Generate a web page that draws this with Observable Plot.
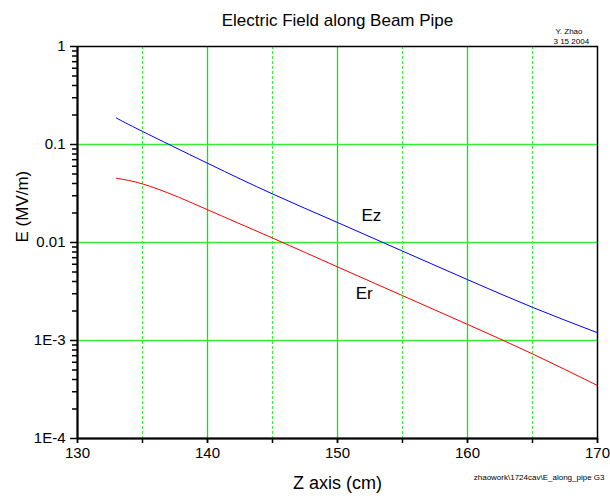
<!DOCTYPE html>
<html>
<head>
<meta charset="utf-8">
<script src="https://cdn.jsdelivr.net/npm/d3@7"></script>
<script src="https://cdn.jsdelivr.net/npm/@observablehq/plot@0.6"></script>
<style>
  html, body { margin: 0; padding: 0; background: #fff; }
  #chart svg { display: block; }
</style>
</head>
<body>
<div id="chart"></div>
<script>
// ---- data ----
const title = "Electric Field along Beam Pipe";
const xLabel = "Z axis (cm)";
const yLabel = "E (MV/m)";
const author = "Y. Zhao";
const dateText = "3 15 2004";
const fileText = "zhaowork\\1724cav\\E_along_pipe G3";

const xTicksLabeled = [130, 140, 150, 160, 170];
const xTicksAll = [130, 135, 140, 145, 150, 155, 160, 165, 170];
const xGridSolid = [140, 150, 160];
const xGridDashed = [135, 145, 155, 165];
const yTicks = [1, 0.1, 0.01, 0.001, 0.0001];
const yTickLabels = ["1", "0.1", "0.01", "1E-3", "1E-4"];
const yGrid = [0.1, 0.01, 0.001];

const ezZ = [133, 135, 140, 145, 150, 155, 160, 165, 170];
const ezE = [0.186, 0.136, 0.0644, 0.0313, 0.0160, 0.00817, 0.00418, 0.00218, 0.00120];
const erZ = [133, 135, 137.5, 140, 145, 150, 155, 160, 165, 170];
const erE = [0.0452, 0.0396, 0.0300, 0.0216, 0.0111, 0.00564, 0.00287, 0.00146, 0.00073, 0.000347];

const seriesLabels = [
  {z: 152.6, e: 0.0188, t: "Ez"},
  {z: 152.05, e: 0.00298, t: "Er"}
];

// ---- build ----
const ez = ezZ.map((z, i) => ({z, e: ezE[i]}));
const er = erZ.map((z, i) => ({z, e: erE[i]}));
const yMinor = [];
for (const d of [1e-4, 1e-3, 1e-2, 1e-1]) for (let k = 2; k <= 9; k++) yMinor.push(+(d * k).toPrecision(3));
const yFmt = v => yTickLabels[yTicks.findIndex(t => Math.abs(t - v) / t < 1e-6)] ?? "";

const font = "Liberation Sans, Arial, sans-serif";

const chart = Plot.plot({
  width: 610,
  height: 498,
  marginLeft: 77,
  marginRight: 13,
  marginTop: 46,
  marginBottom: 60,
  style: {fontFamily: font, background: "#fff", color: "#000"},
  x: {domain: [130, 170]},
  y: {type: "log", domain: [1e-4, 1]},
  marks: [
    Plot.ruleX(xGridSolid, {stroke: "#00ee00", strokeWidth: 1.3}),
    Plot.ruleX(xGridDashed, {stroke: "#44ee44", strokeWidth: 1, strokeDasharray: "3,2"}),
    Plot.ruleY(yGrid, {stroke: "#33ee33", strokeWidth: 1.5}),
    Plot.line(ez, {x: "z", y: "e", stroke: "#0000ff", strokeWidth: 1, curve: "natural"}),
    Plot.line(er, {x: "z", y: "e", stroke: "#ff0000", strokeWidth: 1, curve: "natural"}),
    Plot.text(seriesLabels, {x: "z", y: "e", text: "t", fontSize: 17, fill: "#000"}),
    Plot.frame({stroke: "#000", strokeWidth: 1.5}),
    Plot.ruleX([130], {stroke: "#000", strokeWidth: 2}),
    Plot.ruleY([1e-4], {stroke: "#000", strokeWidth: 2}),
    // x axis
    Plot.axisX({ticks: xTicksAll, tickSize: 5, tickFormat: () => "", strokeWidth: 1.5, label: null}),
    Plot.axisX({ticks: xTicksLabeled, tickSize: 5, tickPadding: 4, fontSize: 15, strokeWidth: 1.5, label: null, tickFormat: d => String(d)}),
    // y axis
    Plot.axisY({ticks: yMinor, tickSize: 5, tickFormat: () => "", strokeWidth: 1.5, label: null}),
    Plot.axisY({ticks: yTicks, tickSize: 7, tickPadding: 5, fontSize: 15, strokeWidth: 1.5, label: null, tickFormat: yFmt}),
    // titles and notes
    Plot.text([title], {frameAnchor: "top", dy: -33, fontSize: 17, fill: "#000"}),
    Plot.text([author], {frameAnchor: "top-right", dx: -42, dy: -18, textAnchor: "start", fontSize: 8, fill: "#000"}),
    Plot.text([dateText], {frameAnchor: "top-right", dx: -44, dy: -8, textAnchor: "start", fontSize: 8, fill: "#000"}),
    Plot.text([fileText], {frameAnchor: "bottom-right", dx: 7, dy: 41, textAnchor: "end", fontSize: 8, fill: "#000"}),
    Plot.text([xLabel], {frameAnchor: "bottom", dy: 50, fontSize: 18, fill: "#000"}),
    Plot.text([yLabel], {frameAnchor: "left", dx: -55, rotate: -90, fontSize: 17, fill: "#000"})
  ]
});
document.getElementById("chart").appendChild(chart);
</script>
</body>
</html>
